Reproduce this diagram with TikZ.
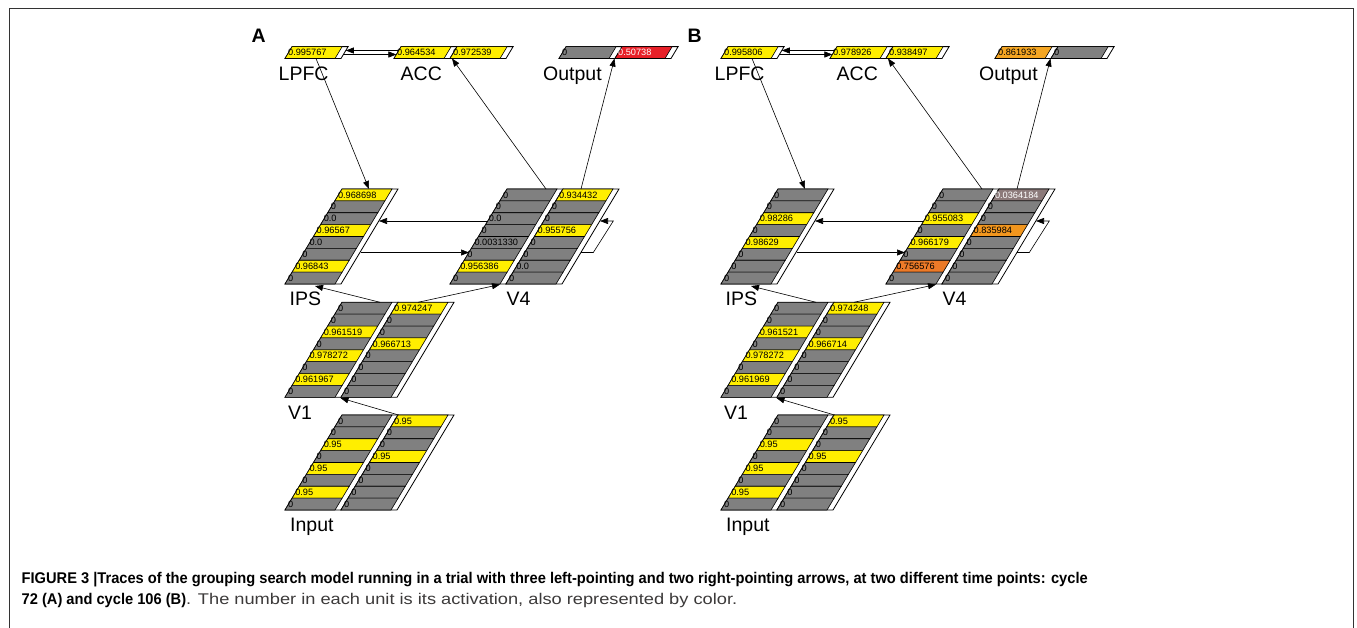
\documentclass[tikz,border=0pt]{standalone}
\usepackage{fontspec}
\setmainfont{Liberation Sans}
\usepackage{graphicx}
\usetikzlibrary{arrows.meta}
\definecolor{cg}{RGB}{128,128,128}
\definecolor{cy}{RGB}{255,238,0}
\definecolor{cr}{RGB}{232,32,40}
\definecolor{co}{RGB}{245,166,35}
\definecolor{cob}{RGB}{242,150,30}
\definecolor{crb}{RGB}{236,122,40}
\definecolor{cm}{RGB}{140,122,122}
\definecolor{captxt}{RGB}{35,31,32}
\definecolor{captxtb}{RGB}{60,58,58}
\def\shK{0.6}\def\rowH{11.875}\def\colW{56}\def\barW{50}
\newcommand\capfont{\fontsize{15.5}{16}\selectfont}
\newsavebox\capboxone
\newsavebox\capboxtwo
\newsavebox\capboxthree
\tikzset{
  colbox/.style={draw=black, fill=white, line width=0.8pt},
  bar/.style={draw=black, line width=0.6pt},
  cell/.style={anchor=west, inner sep=0pt, xshift=-0.6pt, font=\fontsize{9.2}{9.2}\selectfont},
  lbl/.style={anchor=base west, inner sep=0pt, font=\fontsize{19.5}{20}\selectfont},
  panlbl/.style={anchor=base west, inner sep=0pt, font=\fontsize{19.5}{20}\selectfont\bfseries},
  arr/.style={-{Triangle[length=8pt,width=6pt]}, line width=0.6pt},
  captext/.style={anchor=base west, inner sep=0pt, text=captxt}
}
% #1 name, #2 bx, #3 by (bottom), #4 ncols, #5 nrows, #6 cells
\newcommand\layer[6]{%
  \foreach \ci in {1,...,#4}{
    \pgfmathsetmacro\xo{#2+(\ci-1)*\colW}
    \draw[colbox] (\xo,#3) -- ++(\colW,0) -- ++({\shK*#5*\rowH},{-#5*\rowH}) -- ++(-\colW,0) -- cycle;
  }
  \foreach \ci/\ri/\fc/\tx in {#6}{
    \pgfmathsetmacro\xa{#2+(\ci-1)*\colW+\shK*(#5-\ri)*\rowH}
    \pgfmathsetmacro\ya{#3-(#5-\ri)*\rowH}
    \draw[bar, fill=\fc] (\xa,\ya) -- ++(\barW,0) -- ++({\shK*\rowH},{-\rowH}) -- ++(-\barW,0) -- cycle;
  }
  \foreach \ci/\ri/\fc/\tx in {#6}{
    \pgfmathsetmacro\xa{#2+(\ci-1)*\colW+\shK*(#5-\ri+0.5)*\rowH}
    \pgfmathsetmacro\ya{#3-(#5-\ri+0.5)*\rowH}
    \node[cell] (#1-\ci-\ri) at (\xa,\ya) {\tx};
  }
}
% #1 prefix, #2 letter, #3 LPFC, #4 ACC, #5 Output, #6 IPS, #7 V4, #8 V1
\newcommand\panel[8]{%
  \node[panlbl] (#1letter) at (251.5,42.7) {#2};
  \layer{#1lpfc}{285}{58.5}{1}{1}{#3}
  \layer{#1acc}{394}{58.5}{2}{1}{#4}
  \layer{#1out}{559}{58.5}{2}{1}{#5}
  \layer{#1ips}{285}{284}{1}{8}{#6}
  \layer{#1vfour}{450}{284}{2}{8}{#7}
  \layer{#1vone}{285}{397.3}{2}{8}{#8}
  \layer{#1inp}{285}{510}{2}{8}{1/1/cg/0,1/2/cg/0,1/3/cy/0.95,1/4/cg/0,1/5/cy/0.95,1/6/cg/0,1/7/cy/0.95,1/8/cg/0,2/1/cy/0.95,2/2/cg/0,2/3/cg/0,2/4/cy/0.95,2/5/cg/0,2/6/cg/0,2/7/cg/0,2/8/cg/0}
  \node[lbl] (#1Llpfc) at (278.5,80.5) {LPFC};
  \node[lbl] (#1Lacc) at (400.5,80.5) {ACC};
  \node[lbl] (#1Lout) at (543,80.5) {Output};
  \node[lbl] (#1Lips) at (289.5,305) {IPS};
  \node[lbl] (#1Lvfour) at (506.5,305) {V4};
  \node[lbl] (#1Lvone) at (288,419) {V1};
  \node[lbl] (#1Linp) at (290,531) {Input};
  % connector end points
  \coordinate (#1la) at (345.8,50.5);
  \coordinate (#1aa) at (398.8,50.5);
  \coordinate (#1lb) at (343.4,54.5);
  \coordinate (#1ab) at (396.4,54.5);
  \coordinate (#1l1) at (316,58.5);
  \coordinate (#1i1) at (369,189);
  \coordinate (#1v1) at (546,189);
  \coordinate (#1a1) at (452,58.5);
  \coordinate (#1v2) at (581,189);
  \coordinate (#1o1) at (614.5,58.5);
  \coordinate (#1v3) at (488,221);
  \coordinate (#1i2) at (379,221);
  \coordinate (#1i3) at (360.5,252.5);
  \coordinate (#1v4) at (469,252.5);
  \coordinate (#1v5) at (581,252.5);
  \coordinate (#1q1) at (593.3,252.5);
  \coordinate (#1q2) at (613.3,221);
  \coordinate (#1v6) at (600,221);
  \coordinate (#1w1) at (380,302.3);
  \coordinate (#1i4) at (315,286);
  \coordinate (#1w2) at (418,302.3);
  \coordinate (#1v7) at (500,284.5);
  \coordinate (#1n1) at (398.5,415);
  \coordinate (#1w3) at (340.5,398);
  \draw[arr] (#1aa) -- (#1la);
  \draw[arr] (#1lb) -- (#1ab);
  \draw[arr] (#1l1) -- (#1i1);
  \draw[arr] (#1v1) -- (#1a1);
  \draw[arr] (#1v2) -- (#1o1);
  \draw[arr] (#1v3) -- (#1i2);
  \draw[arr] (#1i3) -- (#1v4);
  \draw[arr] (#1v5) -- (#1q1) -- (#1q2) -- (#1v6);
  \draw[arr] (#1w1) -- (#1i4);
  \draw[arr] (#1w2) -- (#1v7);
  \draw[arr] (#1n1) -- (#1w3);
}
\begin{document}
\sbox\capboxone{\capfont\bfseries FIGURE 3 |Traces of the grouping search model running in a trial with three left-pointing and two right-pointing arrows, at two different time points: cycle}%
\sbox\capboxtwo{\capfont\bfseries 72 (A) and cycle 106 (B)}%
\sbox\capboxthree{\capfont\color{captxtb}. The number in each unit is its activation, also represented by color.}%
\pgfmathsetmacro\capf{1066/\the\wd\capboxone}%
\pgfmathsetmacro\capw{715.5-\capf*\the\wd\capboxtwo}%
\begin{tikzpicture}[x=1pt,y=-1pt]
\fill[white] (0,0) rectangle (1357,627);
\useasboundingbox (0,0) rectangle (1357,627);
\draw[line width=1pt, black!80] (9.5,640) -- (9.5,8.5) -- (1353.5,8.5) -- (1353.5,640);
\panel{A}{A}{1/1/cy/0.995767}{1/1/cy/0.964534,2/1/cy/0.972539}{1/1/cg/0,2/1/cr/{\color{white}0.50738}}%
{1/1/cy/0.968698,1/2/cg/0,1/3/cg/0.0,1/4/cy/0.96567,1/5/cg/0.0,1/6/cg/0,1/7/cy/0.96843,1/8/cg/0}%
{1/1/cg/0,1/2/cg/0,1/3/cg/0.0,1/4/cg/0,1/5/cg/0.0031330,1/6/cg/0,1/7/cy/0.956386,1/8/cg/0,2/1/cy/0.934432,2/2/cg/0,2/3/cg/0,2/4/cy/0.955756,2/5/cg/0,2/6/cg/0,2/7/cg/0.0,2/8/cg/0}%
{1/1/cg/0,1/2/cg/0,1/3/cy/0.961519,1/4/cg/0,1/5/cy/0.978272,1/6/cg/0,1/7/cy/0.961967,1/8/cg/0,2/1/cy/0.974247,2/2/cg/0,2/3/cg/0,2/4/cy/0.966713,2/5/cg/0,2/6/cg/0,2/7/cg/0,2/8/cg/0}
\begin{scope}[xshift=436pt]
\panel{B}{B}{1/1/cy/0.995806}{1/1/cy/0.978926,2/1/cy/0.938497}{1/1/co/0.861933,2/1/cg/0}%
{1/1/cg/0,1/2/cg/0,1/3/cy/0.98286,1/4/cg/0,1/5/cy/0.98629,1/6/cg/0,1/7/cg/0,1/8/cg/0}%
{1/1/cg/0,1/2/cg/0,1/3/cy/0.955083,1/4/cg/0,1/5/cy/0.966179,1/6/cg/0,1/7/crb/0.756576,1/8/cg/0,2/1/cm/{\color{white}0.0364184},2/2/cg/0,2/3/cg/0,2/4/cob/0.835984,2/5/cg/0,2/6/cg/0,2/7/cg/0,2/8/cg/0}%
{1/1/cg/0,1/2/cg/0,1/3/cy/0.961521,1/4/cg/0,1/5/cy/0.978272,1/6/cg/0,1/7/cy/0.961969,1/8/cg/0,2/1/cy/0.974248,2/2/cg/0,2/3/cg/0,2/4/cy/0.966714,2/5/cg/0,2/6/cg/0,2/7/cg/0,2/8/cg/0}
\end{scope}
\node[captext] (cap1) at (21.5,583.5) {\scalebox{\capf}[1]{\usebox\capboxone}};
\node[captext] (cap2) at (21.5,604) {\scalebox{\capf}[1]{\usebox\capboxtwo}\resizebox{\capw pt}{\height}{\usebox\capboxthree}};
\end{tikzpicture}
\end{document}
